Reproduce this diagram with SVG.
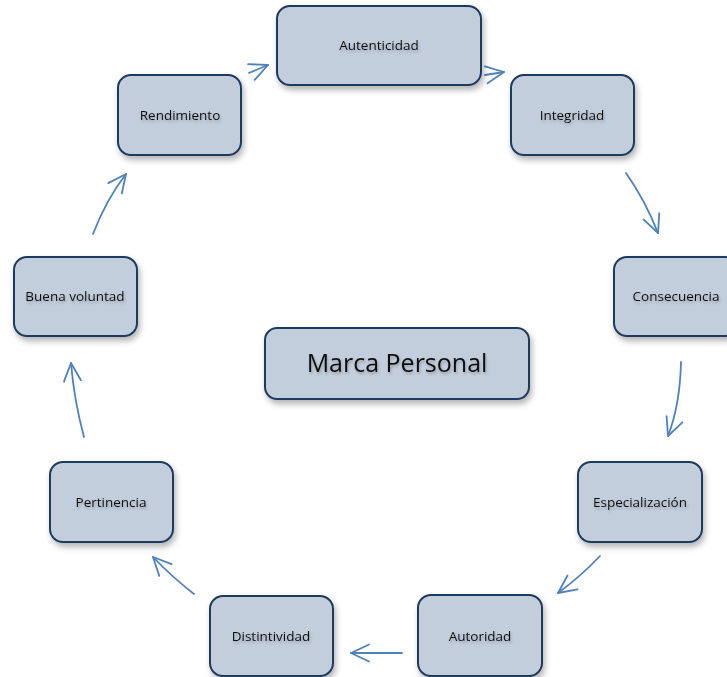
<svg xmlns="http://www.w3.org/2000/svg" width="727" height="677" viewBox="0 0 727 677">
  <defs>
    <filter id="shadow" x="-20%" y="-20%" width="150%" height="160%">
      <feGaussianBlur in="SourceAlpha" stdDeviation="3"/>
      <feOffset dx="2" dy="4" result="b"/>
      <feComponentTransfer><feFuncA type="linear" slope="0.3"/></feComponentTransfer>
      <feMerge><feMergeNode/><feMergeNode in="SourceGraphic"/></feMerge>
    </filter>
    <filter id="tshadow" x="-10%" y="-50%" width="120%" height="200%">
      <feGaussianBlur in="SourceAlpha" stdDeviation="1.5"/>
      <feOffset dx="1" dy="2"/>
      <feComponentTransfer><feFuncA type="linear" slope="0.25"/></feComponentTransfer>
      <feMerge><feMergeNode/><feMergeNode in="SourceGraphic"/></feMerge>
    </filter>
    <marker id="open" viewBox="0 0 22 22" refX="20" refY="11" markerWidth="22" markerHeight="22" markerUnits="userSpaceOnUse" orient="auto">
      <path d="M2,2.5 L20,11 L2,19.5" fill="none" stroke="#4f81bd" stroke-width="1.8" stroke-linecap="round" stroke-linejoin="round"/>
    </marker>
  </defs>
  <style>
    .box { fill: #c3cedd; stroke: #1f3a5f; stroke-width: 2; filter: url(#shadow); }
    .lbl { font-family: "Open Sans", "Liberation Sans", Arial, sans-serif; font-size: 13.5px; fill: #111; text-anchor: middle; dominant-baseline: central; filter: url(#tshadow); }
    .big { font-size: 25px; }
    .arr { fill: none; stroke: #4f81bd; stroke-width: 1.8; stroke-linecap: round; marker-end: url(#open); }
  </style>

  <g id="connectors">
    <path class="arr" d="M249,73 L268,65"/>
    <path class="arr" d="M485,75 L504,72"/>
    <path class="arr" d="M626,173 Q645,200 658,233"/>
    <path class="arr" d="M681,362 Q680,405 668,436"/>
    <path class="arr" d="M600,556 Q580,577 558,593"/>
    <path class="arr" d="M402,653 L351,653"/>
    <path class="arr" d="M194,594 Q172,577 153,557"/>
    <path class="arr" d="M84,437 Q74,400 71,363"/>
    <path class="arr" d="M93,234 Q106,200 126,174"/>
  </g>

  <g id="autenticidad">
    <rect class="box" x="277" y="6" width="204" height="79" rx="13"/>
    <text class="lbl" x="379" y="45">Autenticidad</text>
  </g>
  <g id="integridad">
    <rect class="box" x="511" y="75" width="123" height="80" rx="13"/>
    <text class="lbl" x="572" y="115">Integridad</text>
  </g>
  <g id="consecuencia">
    <rect class="box" x="614" y="257" width="124" height="79" rx="13"/>
    <text class="lbl" x="676" y="296">Consecuencia</text>
  </g>
  <g id="especializacion">
    <rect class="box" x="578" y="462" width="124" height="80" rx="13"/>
    <text class="lbl" x="640" y="502">Especialización</text>
  </g>
  <g id="autoridad">
    <rect class="box" x="418" y="595" width="124" height="81" rx="13"/>
    <text class="lbl" x="480" y="636">Autoridad</text>
  </g>
  <g id="distintividad">
    <rect class="box" x="210" y="596" width="123" height="80" rx="13"/>
    <text class="lbl" x="271" y="636">Distintividad</text>
  </g>
  <g id="pertinencia">
    <rect class="box" x="50" y="462" width="123" height="80" rx="13"/>
    <text class="lbl" x="111" y="502">Pertinencia</text>
  </g>
  <g id="buena-voluntad">
    <rect class="box" x="14" y="257" width="123" height="79" rx="13"/>
    <text class="lbl" x="75" y="296">Buena voluntad</text>
  </g>
  <g id="rendimiento">
    <rect class="box" x="118" y="75" width="123" height="80" rx="13"/>
    <text class="lbl" x="180" y="115">Rendimiento</text>
  </g>
  <g id="marca-personal">
    <rect class="box" x="265" y="328" width="264" height="71" rx="12"/>
    <text class="lbl big" x="397" y="362">Marca Personal</text>
  </g>
</svg>
